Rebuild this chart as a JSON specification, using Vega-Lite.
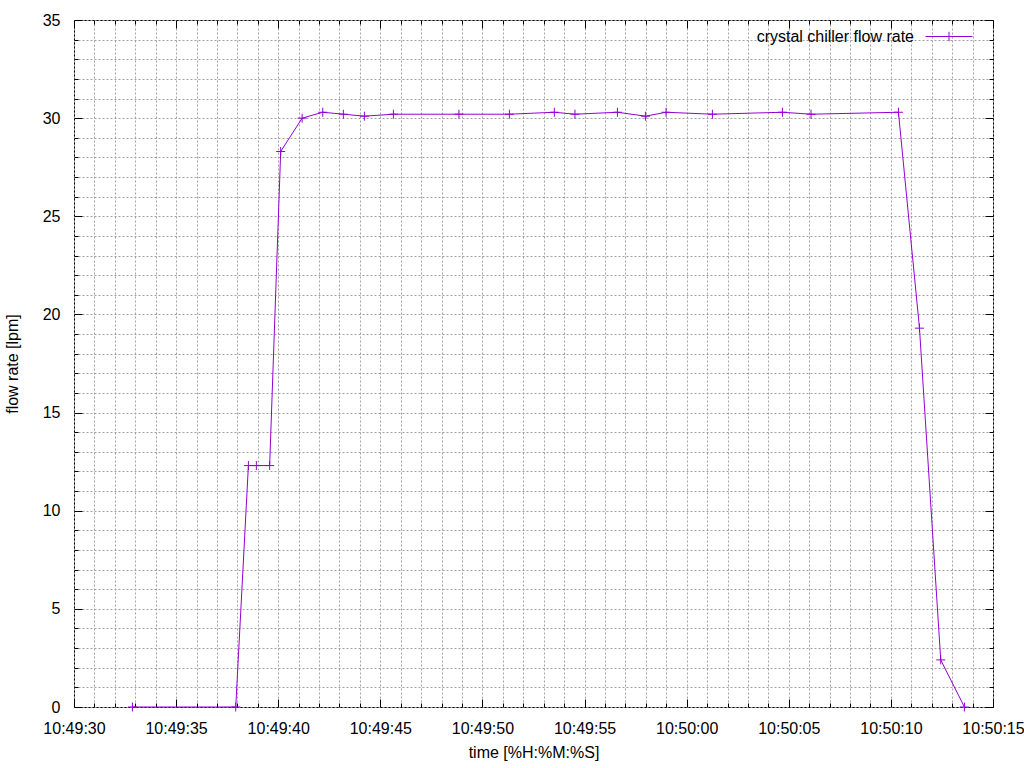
{
  "$schema": "https://vega.github.io/schema/vega-lite/v6.json",
  "width": 919,
  "height": 687,
  "autosize": {"type": "none"},
  "padding": {"left": 74, "top": 20, "right": 31, "bottom": 61},
  "background": "white",
  "config": {
    "view": {"stroke": "black", "strokeWidth": 1},
    "font": "Liberation Sans",
    "axis": {
      "labelFont": "Liberation Sans", "labelFontSize": 16, "labelColor": "black",
      "titleFont": "Liberation Sans", "titleFontSize": 16, "titleFontWeight": "normal", "titleColor": "black",
      "domain": false, "tickColor": "black", "tickWidth": 1,
      "gridColor": "#a0a0a0", "gridDash": [2, 2], "gridOpacity": 1, "gridWidth": 1,
      "labelOverlap": false, "labelFlush": false
    }
  },
  "data": {"values": [
    {"time": "2000-01-01T10:49:32.860Z", "flow": 0},
    {"time": "2000-01-01T10:49:37.920Z", "flow": 0},
    {"time": "2000-01-01T10:49:38.540Z", "flow": 12.3},
    {"time": "2000-01-01T10:49:38.930Z", "flow": 12.3},
    {"time": "2000-01-01T10:49:39.580Z", "flow": 12.3},
    {"time": "2000-01-01T10:49:40.120Z", "flow": 28.3},
    {"time": "2000-01-01T10:49:41.170Z", "flow": 30.0},
    {"time": "2000-01-01T10:49:42.180Z", "flow": 30.3},
    {"time": "2000-01-01T10:49:43.190Z", "flow": 30.2},
    {"time": "2000-01-01T10:49:44.220Z", "flow": 30.1},
    {"time": "2000-01-01T10:49:45.640Z", "flow": 30.2},
    {"time": "2000-01-01T10:49:48.850Z", "flow": 30.2},
    {"time": "2000-01-01T10:49:51.320Z", "flow": 30.2},
    {"time": "2000-01-01T10:49:53.520Z", "flow": 30.3},
    {"time": "2000-01-01T10:49:54.530Z", "flow": 30.2},
    {"time": "2000-01-01T10:49:56.610Z", "flow": 30.3},
    {"time": "2000-01-01T10:49:57.980Z", "flow": 30.1},
    {"time": "2000-01-01T10:49:58.990Z", "flow": 30.3},
    {"time": "2000-01-01T10:50:01.260Z", "flow": 30.2},
    {"time": "2000-01-01T10:50:04.690Z", "flow": 30.3},
    {"time": "2000-01-01T10:50:06.090Z", "flow": 30.2},
    {"time": "2000-01-01T10:50:10.370Z", "flow": 30.3},
    {"time": "2000-01-01T10:50:11.400Z", "flow": 19.3},
    {"time": "2000-01-01T10:50:12.440Z", "flow": 2.4},
    {"time": "2000-01-01T10:50:13.600Z", "flow": 0}
  ]},
  "layer": [
    {
      "mark": {"type": "line", "strokeWidth": 1},
      "encoding": {
        "x": {
          "field": "time", "type": "temporal",
          "scale": {"type": "utc", "nice": false, "domain": [946723770000, 946723815000]},
          "axis": {
            "orient": "bottom", "title": "time [%H:%M:%S]",
            "values": [946723770000, 946723771000, 946723772000, 946723773000, 946723774000, 946723775000, 946723776000, 946723777000, 946723778000, 946723779000, 946723780000, 946723781000, 946723782000, 946723783000, 946723784000, 946723785000, 946723786000, 946723787000, 946723788000, 946723789000, 946723790000, 946723791000, 946723792000, 946723793000, 946723794000, 946723795000, 946723796000, 946723797000, 946723798000, 946723799000, 946723800000, 946723801000, 946723802000, 946723803000, 946723804000, 946723805000, 946723806000, 946723807000, 946723808000, 946723809000, 946723810000, 946723811000, 946723812000, 946723813000, 946723814000, 946723815000],
            "format": "%H:%M:%S",
            "labelExpr": "(datum.value / 1000) % 5 == 0 ? datum.label : ''",
            "labelOverlap": false,
            "tickSize": -8,
            "tickDash": {"condition": {"test": "(datum.value / 1000) % 5 == 0", "value": [20, 1]}, "value": [4, 100]},
            "grid": true, "labelPadding": 21, "titlePadding": 8
          }
        },
        "y": {
          "field": "flow", "type": "quantitative",
          "scale": {"domain": [0, 35], "nice": false, "zero": false},
          "axis": {
            "orient": "left", "title": "flow rate [lpm]",
            "values": [0,1,2,3,4,5,6,7,8,9,10,11,12,13,14,15,16,17,18,19,20,21,22,23,24,25,26,27,28,29,30,31,32,33,34,35],
            "labelExpr": "datum.value % 5 == 0 ? datum.label : ''",
            "labelOverlap": false,
            "tickSize": -8,
            "tickDash": {"condition": {"test": "datum.value % 5 == 0", "value": [20, 1]}, "value": [4, 100]},
            "grid": true, "labelPadding": 22, "titlePadding": 22
          }
        },
        "color": {
          "datum": "crystal chiller flow rate",
          "scale": {"range": ["#9400d3"]},
          "legend": {
            "title": null, "orient": "none", "legendX": 851, "legendY": -7.5, "padding": 0,
            "symbolType": "M-1,0L1,0M0,-0.2L0,0.2", "symbolSize": 2209,
            "symbolStrokeColor": "#9400d3", "symbolFillColor": "transparent", "symbolStrokeWidth": 1,
            "labelFont": "Liberation Sans", "labelFontSize": 16, "labelColor": "black",
            "labelAlign": "right", "labelOffset": -59, "labelLimit": 400
          }
        }
      }
    },
    {
      "mark": {"type": "point", "shape": "M-1,0L1,0M0,-1L0,1", "filled": false, "size": 81, "strokeWidth": 1, "opacity": 1},
      "encoding": {
        "x": {
          "field": "time", "type": "temporal",
          "axis": {
            "orient": "top", "title": null, "labels": false, "grid": false,
            "values": [946723770000, 946723771000, 946723772000, 946723773000, 946723774000, 946723775000, 946723776000, 946723777000, 946723778000, 946723779000, 946723780000, 946723781000, 946723782000, 946723783000, 946723784000, 946723785000, 946723786000, 946723787000, 946723788000, 946723789000, 946723790000, 946723791000, 946723792000, 946723793000, 946723794000, 946723795000, 946723796000, 946723797000, 946723798000, 946723799000, 946723800000, 946723801000, 946723802000, 946723803000, 946723804000, 946723805000, 946723806000, 946723807000, 946723808000, 946723809000, 946723810000, 946723811000, 946723812000, 946723813000, 946723814000, 946723815000],
            "tickSize": -8,
            "tickDash": {"condition": {"test": "(datum.value / 1000) % 5 == 0", "value": [20, 1]}, "value": [4, 100]}
          }
        },
        "y": {
          "field": "flow", "type": "quantitative",
          "axis": {
            "orient": "right", "title": null, "labels": false, "grid": false,
            "values": [0,1,2,3,4,5,6,7,8,9,10,11,12,13,14,15,16,17,18,19,20,21,22,23,24,25,26,27,28,29,30,31,32,33,34,35],
            "tickSize": -8,
            "tickDash": {"condition": {"test": "datum.value % 5 == 0", "value": [20, 1]}, "value": [4, 100]}
          }
        },
        "color": {"datum": "crystal chiller flow rate"}
      }
    }
  ],
  "resolve": {"axis": {"x": "independent", "y": "independent"}}
}
